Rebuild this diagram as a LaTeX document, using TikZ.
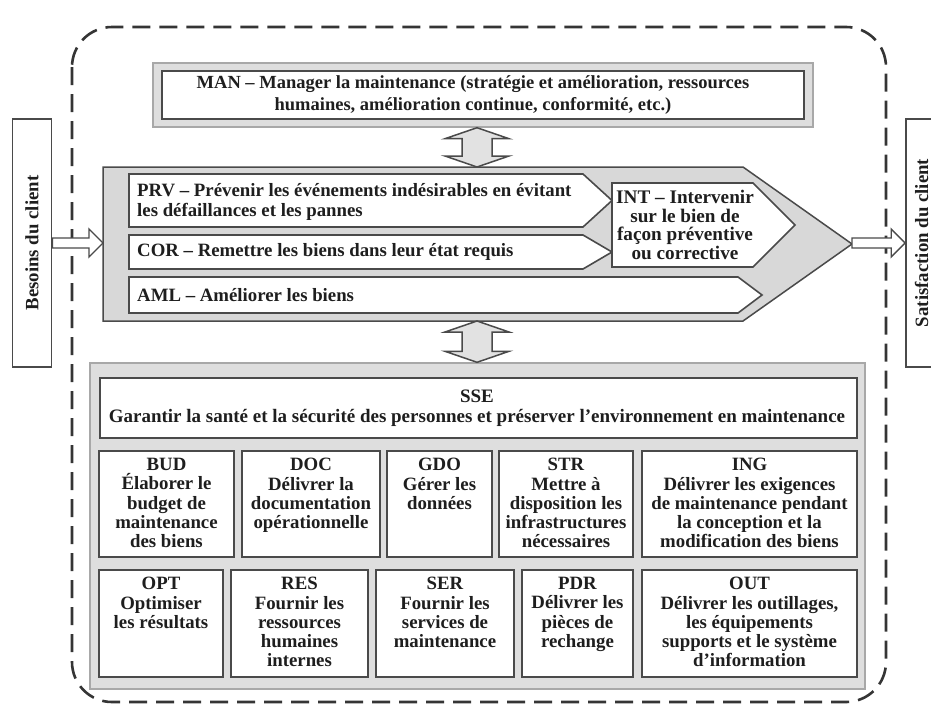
\documentclass[tikz,border=0pt]{standalone}
\usepackage{fontspec}
\setmainfont{Liberation Serif}
\usetikzlibrary{calc}

\definecolor{framefill}{HTML}{DEDEDE}
\definecolor{frameline}{HTML}{A8A8A8}
\definecolor{chevfill}{HTML}{D8D8D8}
\definecolor{boxline}{HTML}{4A4A4A}
\definecolor{ink}{HTML}{1E1E1E}
\definecolor{arrowfill}{HTML}{E2E2E2}

\tikzset{
  lbl/.style={font=\bfseries\fontsize{18.8}{19.2}\selectfont, text=ink, inner sep=0pt, align=center},
  whitebox/.style={draw=boxline, fill=white, line width=1.6pt, inner sep=0pt},
  grayframe/.style={draw=frameline, fill=framefill, line width=1.4pt, inner sep=0pt},
  chevframe/.style={draw=boxline, fill=chevfill, line width=1.5pt, line join=miter},
  blockarrow/.style={draw=boxline, fill=white, line width=1.4pt, line join=miter},
  dblarrow/.style={draw=boxline, fill=arrowfill, line width=1.5pt, line join=miter},
  dashborder/.style={draw=ink!90, line width=2.6pt, dash pattern=on 18pt off 9pt, rounded corners=40pt},
}

% horizontal hollow block arrow from #1 to #2 (tip at #2)
\newcommand\hblockarrow[2]{%
  \draw[blockarrow] ($(#1)+(0,-5)$) -- ($(#2)+(-14,-5)$) -- ($(#2)+(-14,-14)$) -- (#2)
    -- ($(#2)+(-14,14)$) -- ($(#2)+(-14,5)$) -- ($(#1)+(0,5)$) -- cycle;}
% vertical double-headed block arrow between #1 (top tip) and #2 (bottom tip)
\newcommand\vdblarrow[2]{%
  \draw[dblarrow] (#1) -- ($(#1)+(32,11)$) -- ($(#1)+(15,11)$) -- ($(#2)+(15,-11)$)
    -- ($(#2)+(32,-11)$) -- (#2) -- ($(#2)+(-32,-11)$) -- ($(#2)+(-15,-11)$)
    -- ($(#1)+(-15,11)$) -- ($(#1)+(-32,11)$) -- cycle;}

\begin{document}
\begin{tikzpicture}[x=1pt,y=-1pt]
\useasboundingbox (0,0) rectangle (931,707);
\fill[white] (0,0) rectangle (931,707);

% dashed boundary of the maintenance system
\draw[dashborder] (72,27) rectangle (886,702);

% client boxes
\node[whitebox, minimum width=39pt, minimum height=248pt] (besoins) at (32,243) {};
\node[lbl, rotate=90] at (besoins.center) {Besoins du client};
\node[whitebox, minimum width=39pt, minimum height=248pt] (satisf) at (925.5,243) {};
\node[lbl, rotate=90] at ([xshift=-4pt]satisf.center) {Satisfaction du client};

% management process
\node[grayframe, minimum width=660pt, minimum height=64pt] (manframe) at (483,95) {};
\node[whitebox, minimum width=642pt, minimum height=48pt] (man) at (483,95) {};
\node[lbl, font=\bfseries\fontsize{18.5}{22}\selectfont] (mantext) at (473,95) {MAN – Manager la maintenance (stratégie et amélioration, ressources\\humaines, amélioration continue, conformité, etc.)};

% core processes (chevron)
\draw[chevframe] (103,167) -- (743,167) -- (852,244) -- (743,321) -- (103,321) -- cycle;
\coordinate (chevL) at (103,243);
\coordinate (chevR) at (852,243);
\coordinate (chevT) at (477,167);
\coordinate (chevB) at (477,321);

\draw[whitebox] (129,174) -- (583,174) -- (612,200.5) -- (583,227) -- (129,227) -- cycle;
\node[lbl, anchor=west, align=left, font=\bfseries\fontsize{18.8}{20}\selectfont] (prv) at (137,202) {PRV – Prévenir les événements indésirables en évitant\\les défaillances et les pannes};
\draw[whitebox] (129,235) -- (583,235) -- (612,252) -- (583,269) -- (129,269) -- cycle;
\node[lbl, anchor=west] (cor) at (137,252) {COR – Remettre les biens dans leur état requis};
\draw[whitebox] (129,277) -- (738,277) -- (762,295) -- (738,313) -- (129,313) -- cycle;
\node[lbl, anchor=west] (aml) at (137,295) {AML – Améliorer les biens};
\draw[whitebox] (612,183) -- (753,183) -- (795,225) -- (753,267) -- (612,267) -- cycle;
\node[lbl, font=\bfseries\fontsize{19.2}{18.6}\selectfont] (int) at (685,225) {INT – Intervenir\\sur le bien de\\façon préventive\\ou corrective};

% support processes
\node[grayframe, minimum width=775pt, minimum height=326pt] (support) at (477.5,526) {};
\node[whitebox, minimum width=757pt, minimum height=60pt] (sse) at (478.5,408) {};
\node[lbl, font=\bfseries\fontsize{19}{20}\selectfont] at (477,408) {SSE\\Garantir la santé et la sécurité des personnes et préserver l’environnement en maintenance};

\node[whitebox, minimum width=135pt, minimum height=106pt] (bud) at (166.5,504) {};
\node[whitebox, minimum width=138pt, minimum height=106pt] (doc) at (311,504) {};
\node[whitebox, minimum width=105pt, minimum height=106pt] (gdo) at (439.5,504) {};
\node[whitebox, minimum width=134pt, minimum height=106pt] (str) at (566,504) {};
\node[whitebox, minimum width=215pt, minimum height=106pt] (ing) at (749.5,504) {};
\node[whitebox, minimum width=124pt, minimum height=107pt] (opt) at (161,623.5) {};
\node[whitebox, minimum width=137pt, minimum height=107pt] (res) at (299.5,623.5) {};
\node[whitebox, minimum width=138pt, minimum height=107pt] (ser) at (445,623.5) {};
\node[whitebox, minimum width=111pt, minimum height=107pt] (pdr) at (577.5,623.5) {};
\node[whitebox, minimum width=215pt, minimum height=107pt] (out) at (749.5,623.5) {};

\node[lbl, anchor=north] at ([yshift=-8pt]bud.north) {BUD\\Élaborer le\\budget de\\maintenance\\des biens};
\node[lbl, anchor=north] at ([yshift=-8pt]doc.north) {DOC\\Délivrer la\\documentation\\opérationnelle};
\node[lbl, anchor=north] at ([yshift=-8pt]gdo.north) {GDO\\Gérer les\\données};
\node[lbl, anchor=north] at ([yshift=-8pt]str.north) {STR\\Mettre à\\disposition les\\infrastructures\\nécessaires};
\node[lbl, anchor=north] at ([yshift=-8pt]ing.north) {ING\\Délivrer les exigences\\de maintenance pendant\\la conception et la\\modification des biens};
\node[lbl, anchor=north] at ([yshift=-8pt]opt.north) {OPT\\Optimiser\\les résultats};
\node[lbl, anchor=north] at ([yshift=-8pt]res.north) {RES\\Fournir les\\ressources\\humaines\\internes};
\node[lbl, anchor=north] at ([yshift=-8pt]ser.north) {SER\\Fournir les\\services de\\maintenance};
\node[lbl, anchor=north] at ([yshift=-8pt]pdr.north) {PDR\\Délivrer les\\pièces de\\rechange};
\node[lbl, anchor=north] at ([yshift=-8pt]out.north) {OUT\\Délivrer les outillages,\\les équipements\\supports et le système\\d’information};

% flows between processes
\vdblarrow{chevT |- manframe.south}{chevT}
\vdblarrow{chevB}{chevB |- support.north}
\hblockarrow{besoins.east |- chevL}{chevL}
\hblockarrow{chevR}{satisf.west |- chevR}
\end{tikzpicture}
\end{document}
